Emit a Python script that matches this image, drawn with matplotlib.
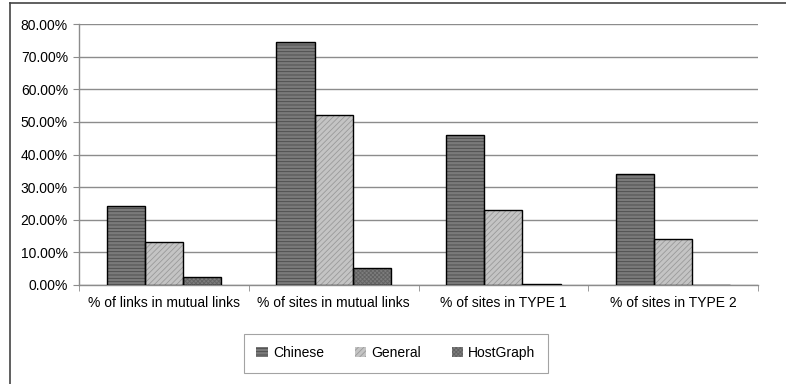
import numpy as np
import matplotlib.pyplot as plt
from matplotlib.lines import Line2D
from matplotlib.ticker import PercentFormatter

plt.rcParams['font.family'] = ['Liberation Sans', 'DejaVu Sans']
plt.rcParams['hatch.linewidth'] = 0.6

categories = ["% of links in mutual links", "% of sites in mutual links",
              "% of sites in TYPE 1", "% of sites in TYPE 2"]
chinese = [24.2, 74.5, 45.9, 34.0]
general = [13.1, 52.2, 23.0, 14.2]
hostgraph = [2.6, 5.3, 0.4, 0.0]

W, H = 786, 384
fig = plt.figure(figsize=(W / 100, H / 100), dpi=100)
ax = fig.add_axes([79 / W, 1 - 285 / H, (758 - 79) / W, (285 - 24) / H])

x = np.arange(len(categories))
bw = 0.225
series = [
    ("Chinese", chinese, "#7a7a7a", "#4a4a4a", "-----"),
    ("General", general, "#c4c4c4", "#9a9a9a", "//////"),
    ("HostGraph", hostgraph, "#7c7c7c", "#626262", "xxxxxxxx"),
]
for i, (name, vals, fc, hc, hatch) in enumerate(series):
    pos = x + (i - 1) * bw
    ax.bar(pos, vals, width=bw, color=fc, hatch=hatch, edgecolor=hc,
           linewidth=0, label=name, zorder=3)
    ax.bar(pos, vals, width=bw, fill=False, edgecolor="black",
           linewidth=1.0, zorder=4)

ax.set_xlim(-0.5, 3.5)
ax.set_ylim(0, 80)
ax.set_yticks(np.arange(0, 81, 10))
ax.yaxis.set_major_formatter(PercentFormatter(decimals=2))
ax.grid(axis="y", color="#8c8c8c", linewidth=1.0, zorder=0)
ax.set_axisbelow(True)

ax.set_xticks(x)
ax.set_xticklabels(categories)
ax.set_xticks(np.arange(-0.5, 3.6, 1), minor=True)
ax.tick_params(axis="x", which="major", length=0, pad=8, labelsize=10)
ax.tick_params(axis="x", which="minor", length=4, color="#8c8c8c", direction="out")
ax.tick_params(axis="y", length=4, color="#8c8c8c", labelsize=10, pad=4)

for s in ["top", "right"]:
    ax.spines[s].set_visible(False)
for s in ["left", "bottom"]:
    ax.spines[s].set_color("#8c8c8c")
    ax.spines[s].set_linewidth(1.0)

leg = ax.legend(loc="center", bbox_to_anchor=(396 / W, 1 - 353 / H),
                bbox_transform=fig.transFigure, ncol=3, frameon=True,
                fancybox=False, edgecolor="#8c8c8c", fontsize=10,
                handlelength=0.8, handleheight=0.8, columnspacing=2.2,
                handletextpad=0.4, borderpad=0.9)
leg.get_frame().set_linewidth(0.8)

# outer frame of the chart (partly cut off)
fig.add_artist(Line2D([9.5 / W, 9.5 / W], [0, 1 - 3 / H], color="#444444", lw=1.2))
fig.add_artist(Line2D([9.5 / W, 1], [1 - 3 / H, 1 - 3 / H], color="#444444", lw=1.2))

fig.savefig("out.png", dpi=100)
